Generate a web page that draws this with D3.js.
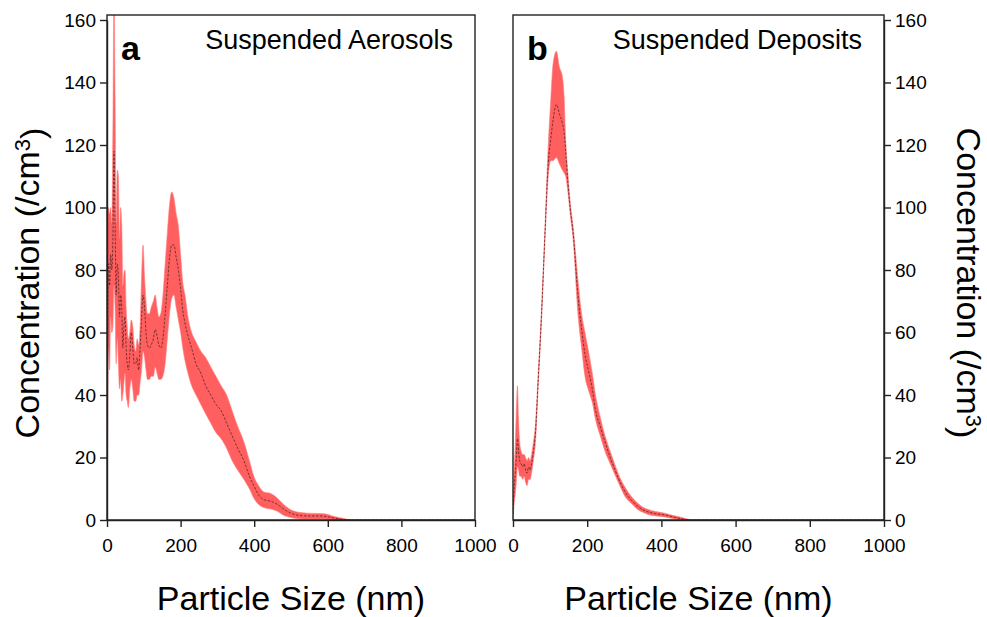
<!DOCTYPE html>
<html>
<head>
<meta charset="utf-8">
<script src="https://cdn.jsdelivr.net/npm/d3@7"></script>
<style>
  body { margin: 0; background: #fff; }
  svg { display: block; font-family: "Liberation Sans", Arial, sans-serif; }
</style>
</head>
<body>
<svg id="chart" width="987" height="617"></svg>
<script>
// tick values
const xTicks = [0, 200, 400, 600, 800, 1000];
const yTicks = [0, 20, 40, 60, 80, 100, 120, 140, 160];

// panel a: suspended aerosols
const sizeA = [0,2,4,7,10,13,16,19,22,25,28,31,34,37,40,43,46,49,52,55,58,62,66,70,74,78,82,86,90,94,98,102,106,110,115,120,126,131,136,141,146,152,158,164,170,176,182,188,194,200,206,212,220,230,242,255,268,282,296,310,325,340,355,372,387,399,412,426,445,463,480,499,520,545,570,590,610,630,650,670,1000];
const meanA = [15,60,82,75,85,80,90,118,95,72,82,78,65,72,68,55,62,65,55,50,48,53,60,55,50,50,52,48,55,65,72,68,60,56,55,56,58,61,59,56,55,58,66,75,84,88,88,84,80,74,67,63,59,55,50,47,43,40,37,35,31,27,23,19,14,11,8,6.5,6,5,3.5,2.2,1.5,1.3,1.3,1.2,0.8,0.4,0.1,0,0];
const lowA = [0,30,55,48,65,60,62,75,68,50,58,50,42,45,38,40,44,47,40,38,36,42,45,42,38,38,40,40,44,48,54,52,48,45,45,46,46,49,47,45,45,46,50,58,66,71,72,68,64,60,55,51,47,43,40,37,34,31,28,26,23,19,16,13,10,7,5,4,3.5,2.8,1.5,0.8,0.4,0.3,0.3,0.3,0.1,0,0,0,0];
const highA = [35,95,100,98,100,95,125,170,135,95,112,110,90,100,95,75,79,80,68,62,58,60,64,62,56,54,58,56,62,78,88,78,70,66,66,68,70,72,68,65,66,72,82,92,101,105,103,98,94,85,76,72,65,60,57,54,52,49,46,43,40,35,30,25,19,14,11,9,8.5,7,5,3.3,2.5,2.2,2.1,2.0,1.4,0.8,0.3,0,0];

// panel b: suspended deposits
const sizeB = [0,3,6,9,12,15,18,22,26,30,34,38,42,46,50,55,60,68,77,86,95,102,108,117,125,133,138,142,148,154,162,175,185,194,205,215,221,235,248,262,275,288,302,320,337,350,364,385,409,430,455,475,490,1000];
const meanB = [2,10,15,20,26,22,19,18,17,18,16,15,17,16,18,22,27,45,66,91,114,122,128,133,130,127,124,118,108,100,92,72,61,53,47,41,36,30,25,20,16,12.3,9,6.2,4.3,3.3,2.6,2.0,1.6,1.0,0.4,0,0,0];
const lowB = [0,5,8,12,17,16,14,14,13,14,12,11,13,13,15,19,24,43,64,89,110,115,115,116,114,112,111,110,105,98,90,66,55,46,41,37,33,27,22,18,14.4,11,7.5,5.2,3.3,2.5,1.8,1.3,1,0.5,0.1,0,0,0];
const highB = [4,15,24,35,43,32,25,22,21,21,20,19,20,19,21,25,30,47,68,93,120,135,146,150,145,142,135,122,111,102,94,77,66,60,53,46,41,33,27,22,17.6,13.6,10.5,7.4,5.3,4.1,3.4,2.7,2.2,1.5,0.8,0.2,0,0];

const svg = d3.select("#chart");

// shared vertical scale
const plotTop = 15, plotBottom = 520;
const y = d3.scaleLinear().domain([0, 160]).range([520, 20]);

function drawPanel(id, left, right, sizes, mean, low, high, letter, title, axisSide) {
  const x = d3.scaleLinear().domain([0, 1000]).range([left, right]);
  const rows = sizes.map((s, i) => ({ s, m: mean[i], lo: low[i], hi: high[i] }));

  svg.append("clipPath").attr("id", "clip-" + id)
    .append("rect")
    .attr("x", left).attr("y", plotTop)
    .attr("width", right - left).attr("height", plotBottom - plotTop);

  const g = svg.append("g").attr("clip-path", `url(#clip-${id})`);

  // spread band
  const band = d3.area()
    .x(d => x(d.s))
    .y0(d => y(d.lo))
    .y1(d => y(d.hi))
    .curve(d3.curveMonotoneX);

  g.append("path")
    .datum(rows)
    .attr("fill", "#ff5f5f")
    .attr("stroke", "#ff8080")
    .attr("stroke-width", 0.6)
    .attr("d", band);

  // mean line
  const line = d3.line()
    .x(d => x(d.s))
    .y(d => y(d.m))
    .curve(d3.curveMonotoneX);

  g.append("path")
    .datum(rows)
    .attr("fill", "none")
    .attr("stroke", "#5a2626")
    .attr("stroke-width", 0.8)
    .attr("stroke-dasharray", "2.5,1.5")
    .attr("d", line);

  // frame
  svg.append("rect")
    .attr("x", left).attr("y", plotTop)
    .attr("width", right - left).attr("height", plotBottom - plotTop)
    .attr("fill", "none")
    .attr("stroke", "#222")
    .attr("stroke-width", 1.4);

  // axes
  const xAxis = d3.axisBottom(x).tickValues(xTicks).tickFormat(d3.format("d"))
    .tickSize(7).tickSizeOuter(0).tickPadding(12);
  const xg = svg.append("g")
    .attr("transform", `translate(0,${plotBottom})`)
    .call(xAxis);
  styleAxis(xg);

  const yAxis = (axisSide === "left" ? d3.axisLeft(y) : d3.axisRight(y))
    .tickValues(yTicks).tickSize(7).tickSizeOuter(0).tickPadding(4);
  const yg = svg.append("g")
    .attr("transform", `translate(${axisSide === "left" ? left : right},0)`)
    .call(yAxis);
  styleAxis(yg);

  // labels
  svg.append("text")
    .attr("x", left + 14)
    .attr("y", 60)
    .style("font-size", "34px")
    .style("font-weight", "bold")
    .text(letter);

  svg.append("text")
    .attr("x", right - 22)
    .attr("y", 49)
    .attr("text-anchor", "end")
    .style("font-size", "27px")
    .text(title);

  svg.append("text")
    .attr("x", (left + right) / 2)
    .attr("y", 610)
    .attr("text-anchor", "middle")
    .style("font-size", "34px")
    .text("Particle Size (nm)");
}

function styleAxis(g) {
  g.attr("font-family", null).attr("font-size", null);
  g.select(".domain").attr("stroke", "#222").attr("stroke-width", 1.4);
  g.selectAll(".tick line").attr("stroke", "#222").attr("stroke-width", 1.4);
  g.selectAll(".tick text").style("font-size", "19px").attr("fill", "#000");
}

drawPanel("a", 107, 475, sizeA, meanA, lowA, highA, "a", "Suspended Aerosols", "left");
drawPanel("b", 513, 884, sizeB, meanB, lowB, highB, "b", "Suspended Deposits", "right");

// vertical titles
function concTitle(cx, cy, angle) {
  const t = svg.append("text")
    .attr("transform", `translate(${cx},${cy}) rotate(${angle})`)
    .attr("text-anchor", "middle")
    .style("font-size", "34px");
  t.append("tspan").text("Concentration (/cm");
  t.append("tspan").attr("dy", "-0.4em").style("font-size", "22px").text("3");
  t.append("tspan").attr("dy", "0.4em").text(")");
}
concTitle(39, 283, -90);
concTitle(957, 283, 90);
</script>
</body>
</html>
